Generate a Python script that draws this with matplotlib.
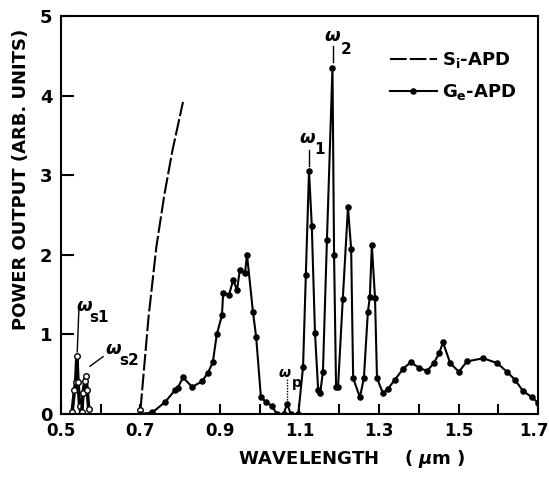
import numpy as np
import matplotlib
matplotlib.use("Agg")
import matplotlib.pyplot as plt
import matplotlib.transforms as mtrans

plt.rcParams['font.family'] = ['DejaVu Sans']
plt.rcParams['font.weight'] = 'bold'

# Si-APD (dashed curve)
si_w = [0.700, 0.720, 0.740, 0.760, 0.780, 0.807]
si_p = [0.05, 1.20, 2.10, 2.75, 3.30, 3.92]

# Si-APD visible peaks (omega_s1, omega_s2)
s1_w = [0.528, 0.534, 0.537, 0.540, 0.543, 0.547, 0.551]
s1_p = [0.02, 0.30, 0.40, 0.73, 0.40, 0.10, 0.00]
s2_w = [0.552, 0.556, 0.560, 0.563, 0.566, 0.570]
s2_p = [0.02, 0.27, 0.42, 0.48, 0.30, 0.06]

# Ge-APD
ge_w = [0.700, 0.730, 0.762, 0.787, 0.794, 0.807, 0.830, 0.855, 0.870, 0.882,
        0.892, 0.905, 0.908, 0.923, 0.933, 0.943, 0.950, 0.963, 0.968, 0.983,
        0.991, 1.003, 1.016, 1.031, 1.043, 1.060, 1.069, 1.078, 1.097, 1.109,
        1.116, 1.124, 1.131, 1.139, 1.147, 1.152, 1.159, 1.169, 1.183, 1.187,
        1.192, 1.197, 1.209, 1.222, 1.230, 1.235, 1.252, 1.262, 1.272, 1.277,
        1.282, 1.290, 1.295, 1.310, 1.323, 1.340, 1.361, 1.380, 1.401, 1.421,
        1.438, 1.451, 1.461, 1.479, 1.501, 1.521, 1.562, 1.597, 1.622, 1.642,
        1.662, 1.685, 1.700]
ge_p = [0.00, 0.02, 0.15, 0.30, 0.33, 0.46, 0.34, 0.41, 0.52, 0.65,
        1.00, 1.24, 1.52, 1.50, 1.68, 1.56, 1.81, 1.77, 2.00, 1.28,
        0.97, 0.21, 0.15, 0.10, 0.00, 0.00, 0.13, 0.00, 0.00, 0.59,
        1.75, 3.05, 2.36, 1.02, 0.30, 0.26, 0.53, 2.18, 4.35, 2.00,
        0.34, 0.34, 1.45, 2.60, 2.07, 0.45, 0.21, 0.45, 1.28, 1.47,
        2.12, 1.46, 0.45, 0.26, 0.32, 0.43, 0.57, 0.65, 0.58, 0.54,
        0.64, 0.76, 0.90, 0.64, 0.53, 0.66, 0.70, 0.64, 0.53, 0.43,
        0.29, 0.21, 0.14]

xticks = [0.5, 0.7, 0.9, 1.1, 1.3, 1.5, 1.7]
xminor = [0.6, 0.8, 1.0, 1.2, 1.4, 1.6]
yticks = [0, 1, 2, 3, 4, 5]

fig = plt.figure(figsize=(5.49, 4.79), dpi=100)
ax = fig.add_axes([0.111, 0.1357, 0.869, 0.831])

si_line, = ax.plot(si_w, si_p, color='black', lw=1.5, label='S$_\\mathregular{i}$-APD')
si_line.set_dashes([8, 1.5])
ax.plot(s1_w, s1_p, color='black', lw=2.5, marker='o', ms=4, mfc='white', mec='black', mew=1)
ax.plot(s2_w, s2_p, color='black', lw=2.5, marker='o', ms=4, mfc='white', mec='black', mew=1)
ax.plot([si_w[0]], [si_p[0]], 'o', ms=4, mfc='white', mec='black', mew=1)
ax.plot(ge_w, ge_p, color='black', lw=1.5, marker='o', ms=3.7, label='G$_\\mathregular{e}$-APD')

ax.set_xlim(0.5, 1.7)
ax.set_ylim(0, 5)
ax.set_xticks(xticks)
ax.set_xticks(xminor, minor=True)
ax.set_yticks(yticks)
ax.set_xticklabels([str(t) for t in xticks], fontsize=12, fontweight='bold')
ax.set_yticklabels([str(t) for t in yticks], fontsize=13, fontweight='bold')
ax.tick_params(axis='x', which='both', direction='in', length=7, width=1.5, pad=6)
ax.tick_params(axis='y', direction='in', length=9, width=1.5, pad=6)
for s in ax.spines.values():
    s.set_linewidth(1.5)
# keep the last wavelength label inside the figure
last = ax.get_xticklabels()[-1]
last.set_transform(last.get_transform() + mtrans.ScaledTranslation(-4 / 100, 0, fig.dpi_scale_trans))

# annotations
ann = dict(fontsize=13, fontweight='bold')
ax.text(0.538, 1.30, '$\\omega$', **ann)
ax.text(0.572, 1.16, 's1', fontsize=11, fontweight='bold')
ax.plot([0.545, 0.541], [1.30, 0.78], color='black', lw=1)
ax.text(0.612, 0.75, '$\\omega$', **ann)
ax.text(0.647, 0.61, 's2', fontsize=11, fontweight='bold')
ax.plot([0.573, 0.606], [0.60, 0.72], color='black', lw=1)
ax.text(1.046, 0.47, '$\\omega$', fontsize=10, fontweight='bold')
ax.text(1.080, 0.34, 'p', fontsize=10, fontweight='bold')
ax.plot([1.069, 1.069], [0.18, 0.44], color='black', lw=1, ls=(0, (1, 1)))
ax.text(1.098, 3.40, '$\\omega$', **ann)
ax.text(1.138, 3.26, '1', fontsize=11, fontweight='bold')
ax.plot([1.124, 1.124], [3.12, 3.32], color='black', lw=1)
ax.text(1.161, 4.68, '$\\omega$', **ann)
ax.text(1.204, 4.52, '2', fontsize=11, fontweight='bold')
ax.plot([1.184, 1.184], [4.42, 4.62], color='black', lw=1)

ax.legend(loc='upper left', bbox_to_anchor=(0.655, 0.955), frameon=False,
          handlelength=2.6, handletextpad=0.3, labelspacing=0.65,
          prop={'weight': 'bold', 'size': 13})

fig.text(0.64, 0.042, 'WAVELENGTH    ( $\\mu$m )', ha='center', va='center',
         fontsize=13, fontweight='bold')
fig.text(0.038, 0.626, 'POWER OUTPUT (ARB. UNITS)', ha='center', va='center',
         rotation=90, fontsize=13, fontweight='bold')

fig.savefig('out.png', dpi=100)
